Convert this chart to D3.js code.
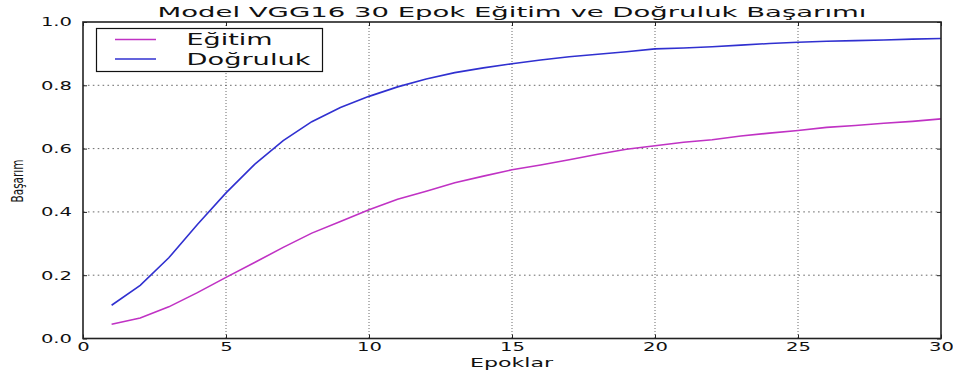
<!DOCTYPE html>
<html><head><meta charset="utf-8">
<script src="https://cdn.jsdelivr.net/npm/d3@7"></script>
<style>body{margin:0;background:#fff}svg{display:block}</style>
</head><body>
<script>
const epochs = d3.range(1, 31);
const egitim = [0.045,0.065,0.10,0.145,0.193,0.24,0.288,0.333,0.37,0.407,0.44,0.465,0.492,0.513,0.533,0.548,0.565,0.582,0.598,0.609,0.62,0.628,0.64,0.649,0.657,0.667,0.673,0.68,0.686,0.694];
const dogruluk = [0.105,0.168,0.255,0.36,0.46,0.55,0.625,0.685,0.73,0.765,0.795,0.82,0.84,0.855,0.868,0.88,0.89,0.898,0.906,0.915,0.918,0.922,0.927,0.932,0.936,0.939,0.941,0.943,0.946,0.948];
const xTicks = [0,5,10,15,20,25,30];
const yTicks = [0.0,0.2,0.4,0.6,0.8,1.0];
const title = "Model VGG16 30 Epok Eğitim ve Doğruluk Başarımı";
const xLabel = "Epoklar", yLabel = "Başarım";
const seriesNames = ["Eğitim","Doğruluk"];
const colors = ["#c032c4","#3030d0"];

const W=953,H=371, L=83, R=941, T=22, B=338.5;
const svg=d3.select("body").append("svg").attr("width",W).attr("height",H);
svg.append("rect").attr("width",W).attr("height",H).attr("fill","#fff");
const x=d3.scaleLinear().domain([0,30]).range([L,R]);
const y=d3.scaleLinear().domain([0,1]).range([B,T]);
const font="DejaVu Sans";
const SX=1.63;
function stretch(sel,f){sel.each(function(){const n=this.getComputedTextLength();d3.select(this).attr("textLength",n*f).attr("lengthAdjust","spacingAndGlyphs");});}

// grid
svg.append("g").selectAll("line").data(xTicks.slice(1,-1)).join("line")
 .attr("x1",d=>x(d)).attr("x2",d=>x(d)).attr("y1",T).attr("y2",B)
 .attr("stroke","#444").attr("stroke-width",0.8).attr("stroke-dasharray","1,2");
svg.append("g").selectAll("line").data(yTicks.slice(1,-1)).join("line")
 .attr("x1",L).attr("x2",R).attr("y1",d=>y(d)).attr("y2",d=>y(d))
 .attr("stroke","#444").attr("stroke-width",0.8).attr("stroke-dasharray","1.6,3.3");

// lines
const line=d3.line().x((d,i)=>x(epochs[i])).y(d=>y(d));
[egitim,dogruluk].forEach((s,k)=>{
 svg.append("path").datum(s).attr("d",line).attr("fill","none").attr("stroke",colors[k]).attr("stroke-width",1.6);
});

// axes (ticks inward)
const ax=svg.append("g");
ax.append("g").attr("transform",`translate(0,${B})`).call(d3.axisBottom(x).tickValues(xTicks).tickSize(-4).tickPadding(3.5).tickFormat(d3.format("d")));
ax.append("g").attr("transform",`translate(0,${T})`).call(d3.axisTop(x).tickValues(xTicks).tickSize(-4).tickFormat(""));
ax.append("g").attr("transform",`translate(${L},0)`).call(d3.axisLeft(y).tickValues(yTicks).tickSize(-4).tickPadding(11).tickFormat(d3.format(".1f")));
ax.append("g").attr("transform",`translate(${R},0)`).call(d3.axisRight(y).tickValues(yTicks).tickSize(-4).tickFormat(""));
ax.selectAll(".domain").remove();
ax.selectAll(".tick line").attr("stroke","#222").attr("stroke-width",1);
ax.selectAll("text").attr("font-family",font).attr("font-size",12).attr("fill","#111").call(stretch,SX);
svg.append("rect").attr("x",L).attr("y",T).attr("width",R-L).attr("height",B-T).attr("fill","none").attr("stroke","#222").attr("stroke-width",1.6);

// title & labels
svg.append("text").attr("x",(L+R)/2).attr("y",17.3).attr("text-anchor","middle").attr("font-family",font).attr("font-size",14).attr("fill","#111").text(title).attr("textLength",709).attr("lengthAdjust","spacingAndGlyphs");
svg.append("text").attr("x",511.5).attr("y",366.5).attr("text-anchor","middle").attr("font-family",font).attr("font-size",13).attr("fill","#111").text(xLabel).attr("textLength",83).attr("lengthAdjust","spacingAndGlyphs");
svg.append("text").attr("transform","translate(23,181) rotate(-90)").attr("text-anchor","middle").attr("font-family","DejaVu Sans Condensed, DejaVu Sans").attr("font-size",16).attr("fill","#111").text(yLabel).attr("textLength",43).attr("lengthAdjust","spacingAndGlyphs");

// legend
const lg=svg.append("g");
lg.append("rect").attr("x",96.5).attr("y",28.5).attr("width",226).attr("height",43).attr("fill","#fff").attr("stroke","#111").attr("stroke-width",1.2);
const ly=[39.5,59];
const lw=[86,124];
seriesNames.forEach((n,k)=>{
 lg.append("line").attr("x1",115).attr("x2",156).attr("y1",ly[k]).attr("y2",ly[k]).attr("stroke",colors[k]).attr("stroke-width",1.4);
 lg.append("text").attr("x",186.5).attr("y",ly[k]+5.5).attr("font-family",font).attr("font-size",15).attr("fill","#111").text(n).attr("textLength",lw[k]).attr("lengthAdjust","spacingAndGlyphs");
});
</script>
</body></html>
